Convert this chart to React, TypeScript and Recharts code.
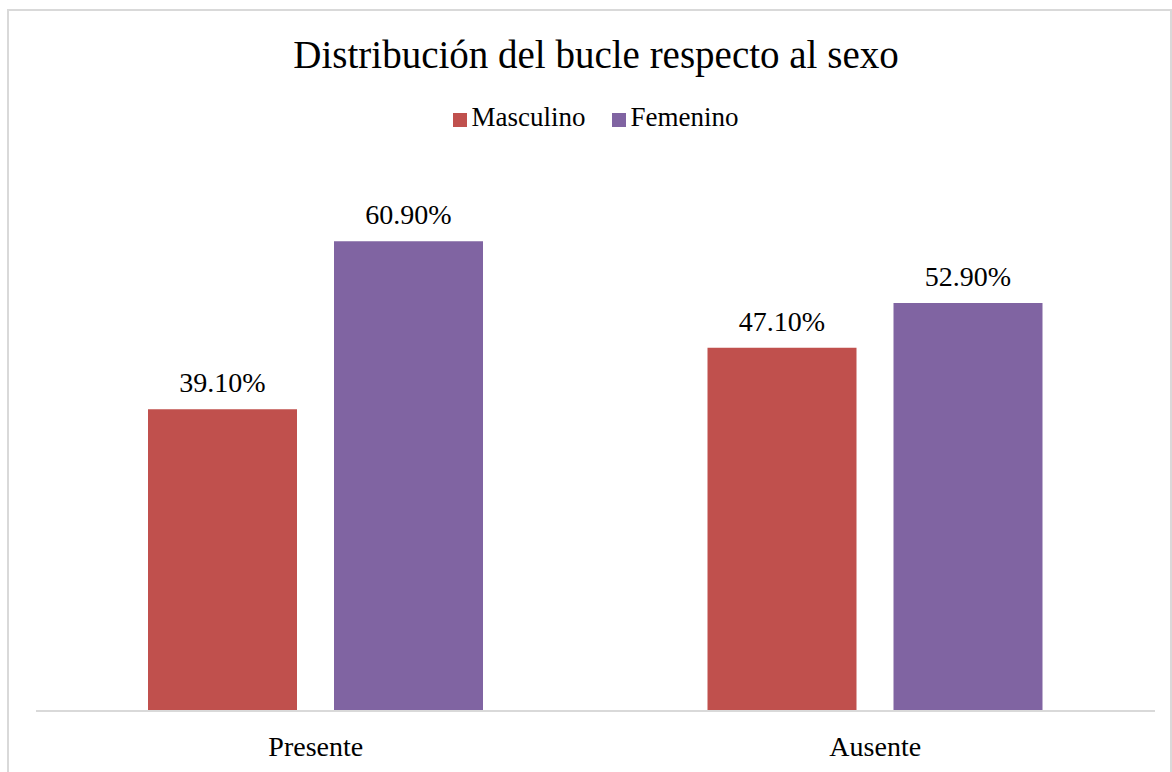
import { BarChart, Bar, XAxis, YAxis, Legend, LabelList } from 'recharts';

const categories = ['Presente', 'Ausente'];
const masculino = [39.1, 47.1];
const femenino = [60.9, 52.9];

const SERIES = [
  { key: 'masculino', name: 'Masculino', color: '#C0504D' },
  { key: 'femenino', name: 'Femenino', color: '#8064A2' },
];

const FONT = '"Liberation Serif", "Times New Roman", serif';

const data = categories.map((cat, i) => ({
  cat,
  masculino: masculino[i],
  femenino: femenino[i],
}));

const pct = (v: unknown) => `${Number(v).toFixed(2)}%`;

export default function App() {
  return (
    <div
      style={{
        position: 'absolute',
        left: 0,
        top: 0,
        width: 1172,
        height: 772,
        overflow: 'hidden',
        background: '#fff',
        fontFamily: FONT,
      }}
    >
      <div
        style={{
          position: 'absolute',
          left: 7,
          top: 9,
          width: 1161,
          height: 800,
          border: '2px solid #d9d9d9',
        }}
      />
      <div
        style={{
          position: 'absolute',
          left: 0,
          top: 31,
          width: 1192,
          textAlign: 'center',
          fontSize: 39,
          color: '#000',
          lineHeight: '48px',
        }}
      >
        Distribución del bucle respecto al sexo
      </div>
      <BarChart
        width={1172}
        height={772}
        data={data}
        margin={{ top: 140, right: 17, left: 36, bottom: 0 }}
        barSize={149}
        barGap={37}
        style={{ position: 'absolute', left: 0, top: 0 }}
      >
        <XAxis
          dataKey="cat"
          height={61}
          tickSize={0}
          tickMargin={25}
          axisLine={{ stroke: '#d9d9d9', strokeWidth: 2 }}
          tickLine={false}
          tick={{ fontSize: 28, fill: '#000', fontFamily: FONT }}
        />
        <YAxis hide domain={[0, 70]} />
        <Legend
          verticalAlign="top"
          align="center"
          iconType="square"
          iconSize={14}
          itemSorter={null}
          wrapperStyle={{ top: 102, left: 49, fontSize: 27, fontFamily: FONT, color: '#000' }}
          formatter={(value) => (
            <span style={{ color: '#000', marginLeft: 1, marginRight: 16 }}>{value}</span>
          )}
        />
        {SERIES.map((s) => (
          <Bar key={s.key} dataKey={s.key} name={s.name} fill={s.color} isAnimationActive={false}>
            <LabelList
              dataKey={s.key}
              position="top"
              offset={17}
              formatter={pct}
              style={{ fontSize: 28, fill: '#000', fontFamily: FONT }}
            />
          </Bar>
        ))}
      </BarChart>
    </div>
  );
}
